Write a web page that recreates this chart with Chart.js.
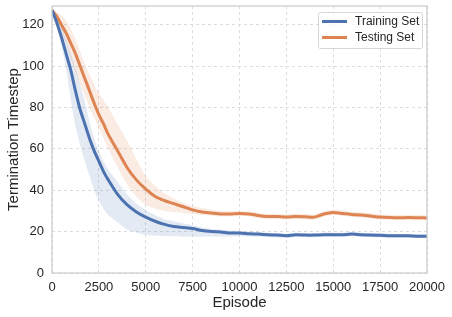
<!DOCTYPE html>
<html>
<head>
<meta charset="utf-8">
<script src="https://cdn.jsdelivr.net/npm/chart.js@4/dist/chart.umd.min.js"></script>
<style>
  html, body { margin: 0; padding: 0; background: #fff; }
  #wrap { width: 452px; height: 317px; }
</style>
</head>
<body>
<div id="wrap"><canvas id="myChart" width="452" height="317"></canvas></div>
<script>
// episodes
const episodes = [0, 250, 500, 750, 1000, 1250, 1500, 1750, 2000, 2250, 2500, 2750, 3000,
  3500, 4000, 4500, 5000, 5500, 6000, 6500, 7000, 7500, 8000, 8500, 9000, 9500, 10000,
  10500, 11000, 11500, 12000, 12500, 13000, 13500, 14000, 14500, 15000, 15500, 16000,
  16500, 17000, 17500, 18000, 18500, 19000, 19500, 20000];

const trainMean = [127, 121, 114, 106, 98, 88, 79, 72, 65, 59, 54, 49, 45,
  38, 33, 29.5, 27, 25, 23.5, 22.5, 22, 21.5, 20.5, 20, 19.8, 19.3, 19.3,
  19, 18.8, 18.5, 18.3, 18, 18.5, 18.3, 18.3, 18.5, 18.5, 18.5, 18.8,
  18.5, 18.3, 18.2, 18, 18, 18, 17.8, 17.8];
const trainLow = [127, 120, 110, 99, 84, 71, 62, 54, 47, 40, 35, 31, 28,
  24.5, 21, 19.5, 18.5, 18, 17.8, 17.7, 17.5, 17.5, 17.5, 17.6, 17.6, 17.6, 17.7,
  17.6, 17.5, 17.3, 17.2, 17, 17.4, 17.3, 17.3, 17.5, 17.5, 17.5, 17.8,
  17.5, 17.3, 17.2, 17, 17, 17, 16.9, 16.9];
const trainHigh = [127, 124, 119, 113, 106, 99, 91, 83, 73, 65, 59, 54, 50,
  44, 38, 33.5, 30.5, 28, 26, 25, 24, 23, 22, 21.3, 21, 20.5, 20.3,
  20, 19.8, 19.5, 19.3, 19, 19.5, 19.3, 19.3, 19.5, 19.5, 19.5, 19.8,
  19.5, 19.3, 19.2, 19, 19, 19, 18.7, 18.7];

const testMean = [127, 124, 120, 116, 111, 106, 100, 94, 88, 82, 76.5, 72, 67,
  59, 51, 45, 40.5, 37, 35, 33.5, 32, 30.5, 29.5, 29, 28.5, 28.5, 28.7,
  28.5, 27.8, 27.3, 27.3, 27, 27.3, 27.2, 27, 28.5, 29.2, 28.8, 28.3,
  28, 27.5, 27, 26.8, 26.7, 26.8, 26.7, 26.6];
const testLow = [127, 122, 117, 111, 104, 97, 91, 85.5, 80, 75, 70, 65, 60,
  51, 43, 37, 33, 31, 30, 29.5, 29, 28.5, 28, 27.7, 27.3, 27.3, 27.5,
  27.3, 26.6, 26.1, 26.1, 25.8, 26.1, 26, 25.8, 27.3, 28, 27.6, 27.1,
  26.8, 26.3, 25.8, 25.6, 25.5, 25.6, 25.5, 25.4];
const testHigh = [127, 126, 124.5, 122, 118, 113, 107, 101, 96, 91, 87, 83.5, 80,
  72, 64, 55, 47, 42, 38.5, 36, 34, 32.5, 31.5, 30.6, 30, 29.9, 30,
  29.8, 29.1, 28.6, 28.6, 28.3, 28.6, 28.5, 28.3, 29.8, 30.5, 30.1, 29.6,
  29.3, 28.8, 28.3, 28.1, 28, 28.1, 28, 27.9];

const xTicks = [0, 2500, 5000, 7500, 10000, 12500, 15000, 17500, 20000];
const yTicks = [0, 20, 40, 60, 80, 100, 120];
const seriesLabels = ["Training Set", "Testing Set"];

const BLUE = "#4c72b0";
const ORANGE = "#dd8452";
const FONT = "'Liberation Sans', Arial, sans-serif";

const pts = arr => arr.map((v, i) => ({ x: episodes[i], y: v }));

const lineStyle = {
  pointRadius: 0,
  borderWidth: 3,
  tension: 0.25,
  fill: false
};
const bandStyle = {
  pointRadius: 0,
  borderWidth: 0,
  tension: 0.25
};

// white grid frame + legend inside plot
const framePlugin = {
  id: "frame",
  afterDraw(chart) {
    const { ctx, chartArea: a } = chart;
    ctx.save();
    ctx.strokeStyle = "#cccccc";
    ctx.lineWidth = 1.25;
    ctx.strokeRect(a.left, a.top, a.right - a.left, a.bottom - a.top);

    // legend box
    const bx = 318, by = 12, bw = 104, bh = 36;
    ctx.fillStyle = "rgba(255,255,255,0.8)";
    ctx.strokeStyle = "#d6d6d6";
    ctx.lineWidth = 1;
    ctx.beginPath();
    ctx.roundRect(bx + 0.5, by + 0.5, bw, bh, 2);
    ctx.fill();
    ctx.stroke();
    const cols = [BLUE, ORANGE];
    ctx.font = "12px " + FONT;
    ctx.textBaseline = "middle";
    seriesLabels.forEach((lab, i) => {
      const y = by + 9.5 + i * 16;
      ctx.strokeStyle = cols[i];
      ctx.lineWidth = 3;
      ctx.beginPath();
      ctx.moveTo(bx + 4, y);
      ctx.lineTo(bx + 29, y);
      ctx.stroke();
      ctx.fillStyle = "#262626";
      ctx.fillText(lab, bx + 37, y);
    });
    ctx.restore();
  }
};

const ctx = document.getElementById("myChart").getContext("2d");
const chart = new Chart(ctx, {
  type: "line",
  data: {
    datasets: [
      { ...lineStyle, label: seriesLabels[0], data: pts(trainMean), borderColor: BLUE },
      { ...lineStyle, label: seriesLabels[1], data: pts(testMean), borderColor: ORANGE },
      { ...bandStyle, label: "trainLow", data: pts(trainLow), fill: false, borderColor: "transparent" },
      { ...bandStyle, label: "trainHigh", data: pts(trainHigh), fill: "-1", borderColor: "transparent", backgroundColor: "rgba(76,114,176,0.15)" },
      { ...bandStyle, label: "testLow", data: pts(testLow), fill: false, borderColor: "transparent" },
      { ...bandStyle, label: "testHigh", data: pts(testHigh), fill: "-1", borderColor: "transparent", backgroundColor: "rgba(221,132,82,0.16)" }
    ]
  },
  options: {
    responsive: false,
    animation: false,
    layout: { padding: { top: 6, right: 25, left: 0, bottom: 0 } },
    plugins: {
      legend: { display: false },
      tooltip: { enabled: false }
    },
    scales: {
      x: {
        type: "linear",
        min: 0,
        max: 20000,
        afterBuildTicks: axis => { axis.ticks = xTicks.map(v => ({ value: v })); },
        afterFit: axis => { axis.height = 44; axis.paddingRight = 0; axis.paddingLeft = 0; },
        grid: { color: "#dcdcdc", lineWidth: 1, drawTicks: false },
        border: { display: false, dash: [3, 3] },
        ticks: {
          padding: 7,
          color: "#262626",
          maxRotation: 0,
          callback: v => String(v),
          font: { size: 13, family: FONT }
        },
        title: {
          display: true,
          text: "Episode",
          color: "#262626",
          padding: { top: 1, bottom: 5 },
          font: { size: 15, family: FONT }
        }
      },
      y: {
        min: 0,
        max: 129,
        afterBuildTicks: axis => { axis.ticks = yTicks.map(v => ({ value: v })); },
        afterFit: axis => { axis.width = 52; axis.paddingTop = 0; axis.paddingBottom = 0; },
        grid: { color: "#dcdcdc", lineWidth: 1, drawTicks: false },
        border: { display: false, dash: [3, 3] },
        ticks: {
          padding: 8,
          color: "#262626",
          font: { size: 13, family: FONT }
        },
        title: {
          display: true,
          text: "Termination Timestep",
          color: "#262626",
          padding: { top: 5, bottom: 4 },
          font: { size: 15, family: FONT }
        }
      }
    }
  },
  plugins: [framePlugin]
});
</script>
</body>
</html>
